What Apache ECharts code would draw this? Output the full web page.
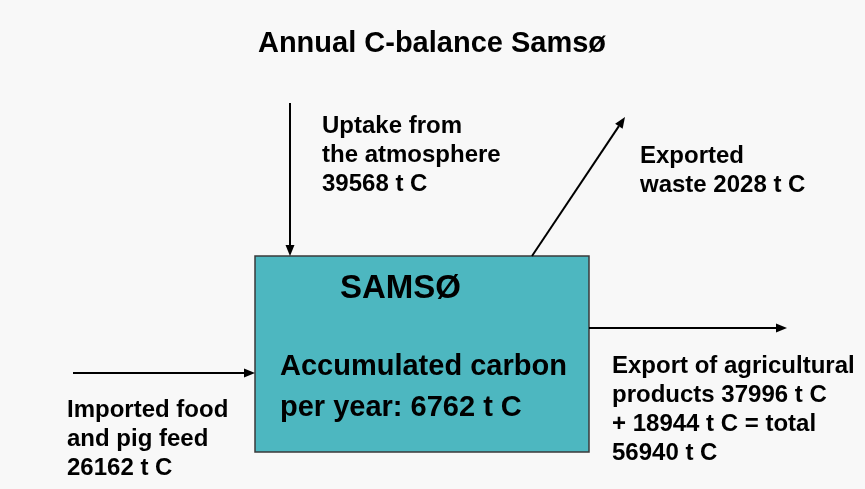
<!DOCTYPE html>
<html>
<head>
<meta charset="utf-8">
<script src="https://cdn.jsdelivr.net/npm/echarts@6/dist/echarts.min.js"></script>
<style>
html,body{margin:0;padding:0;background:#f8f8f8;}
#c{width:865px;height:489px;}
</style>
</head>
<body>
<div id="c"></div>
<script>
// ---- data ----
var chartTitle = 'Annual C-balance Samsø';
var boxName = 'SAMSØ';
var accumulated = 6762;            // t C per year
var uptakeAtmosphere = 39568;       // t C
var exportedWaste = 2028;           // t C
var importedFoodFeed = 26162;       // t C
var exportAgri = [37996, 18944];    // t C
var exportTotal = 56940;            // t C

// ---- layout ----
var FONT = 'Liberation Sans, Arial, sans-serif';
var box = {x: 255, y: 256, w: 334, h: 196};

function arrow(x1, y1, x2, y2) {
  var dx = x2 - x1, dy = y2 - y1, L = Math.sqrt(dx*dx + dy*dy);
  var ux = dx / L, uy = dy / L, hl = 11, hw = 4.5;
  var bx = x2 - ux * hl, by = y2 - uy * hl;
  return [
    {type: 'line', shape: {x1: x1, y1: y1, x2: bx, y2: by}, style: {stroke: '#000', lineWidth: 2}},
    {type: 'polygon', shape: {points: [[x2, y2], [bx - uy * hw, by + ux * hw], [bx + uy * hw, by - ux * hw]]}, style: {fill: '#000'}}
  ];
}
function label(x, y, lines, size, lh) {
  return {type: 'text', x: x, y: y, style: {text: lines.join('\n'), font: 'bold ' + size + 'px ' + FONT, fill: '#000', lineHeight: lh, verticalAlign: 'top', align: 'left'}};
}

var els = [];
els.push({type: 'rect', shape: {x: 0, y: 0, width: 865, height: 489}, style: {fill: '#f8f8f8'}});
els.push({type: 'text', x: 432, y: 44, style: {text: chartTitle, font: 'bold 29px ' + FONT, fill: '#000', align: 'center', verticalAlign: 'middle'}});
els.push({type: 'rect', shape: {x: box.x, y: box.y, width: box.w, height: box.h}, style: {fill: '#4db7c0', stroke: '#3a3a3a', lineWidth: 1.5}});
els.push({type: 'text', x: 340, y: 289, style: {text: boxName, font: 'bold 33px ' + FONT, fill: '#000', verticalAlign: 'middle'}});
els.push(label(280, 346, ['Accumulated carbon', 'per year: ' + accumulated + ' t C'], 29, 41));
els = els.concat(arrow(290, 103, 290, 256));
els = els.concat(arrow(532, 256, 625, 117));
els = els.concat(arrow(589, 328, 787, 328));
els = els.concat(arrow(73, 373, 255, 373));
els.push(label(322, 112, ['Uptake from', 'the atmosphere', uptakeAtmosphere + ' t C'], 24, 29));
els.push(label(640, 142, ['Exported', 'waste ' + exportedWaste + ' t C'], 24, 29));
els.push(label(612, 352, ['Export of agricultural', 'products ' + exportAgri[0] + ' t C', '+ ' + exportAgri[1] + ' t C = total', exportTotal + ' t C'], 24, 29));
els.push(label(67, 396, ['Imported food', 'and pig feed', importedFoodFeed + ' t C'], 24, 29));

var chart = echarts.init(document.getElementById('c'), null, {renderer: 'canvas'});
chart.setOption({animation: false, backgroundColor: '#f8f8f8', graphic: els});
</script>
</body>
</html>
